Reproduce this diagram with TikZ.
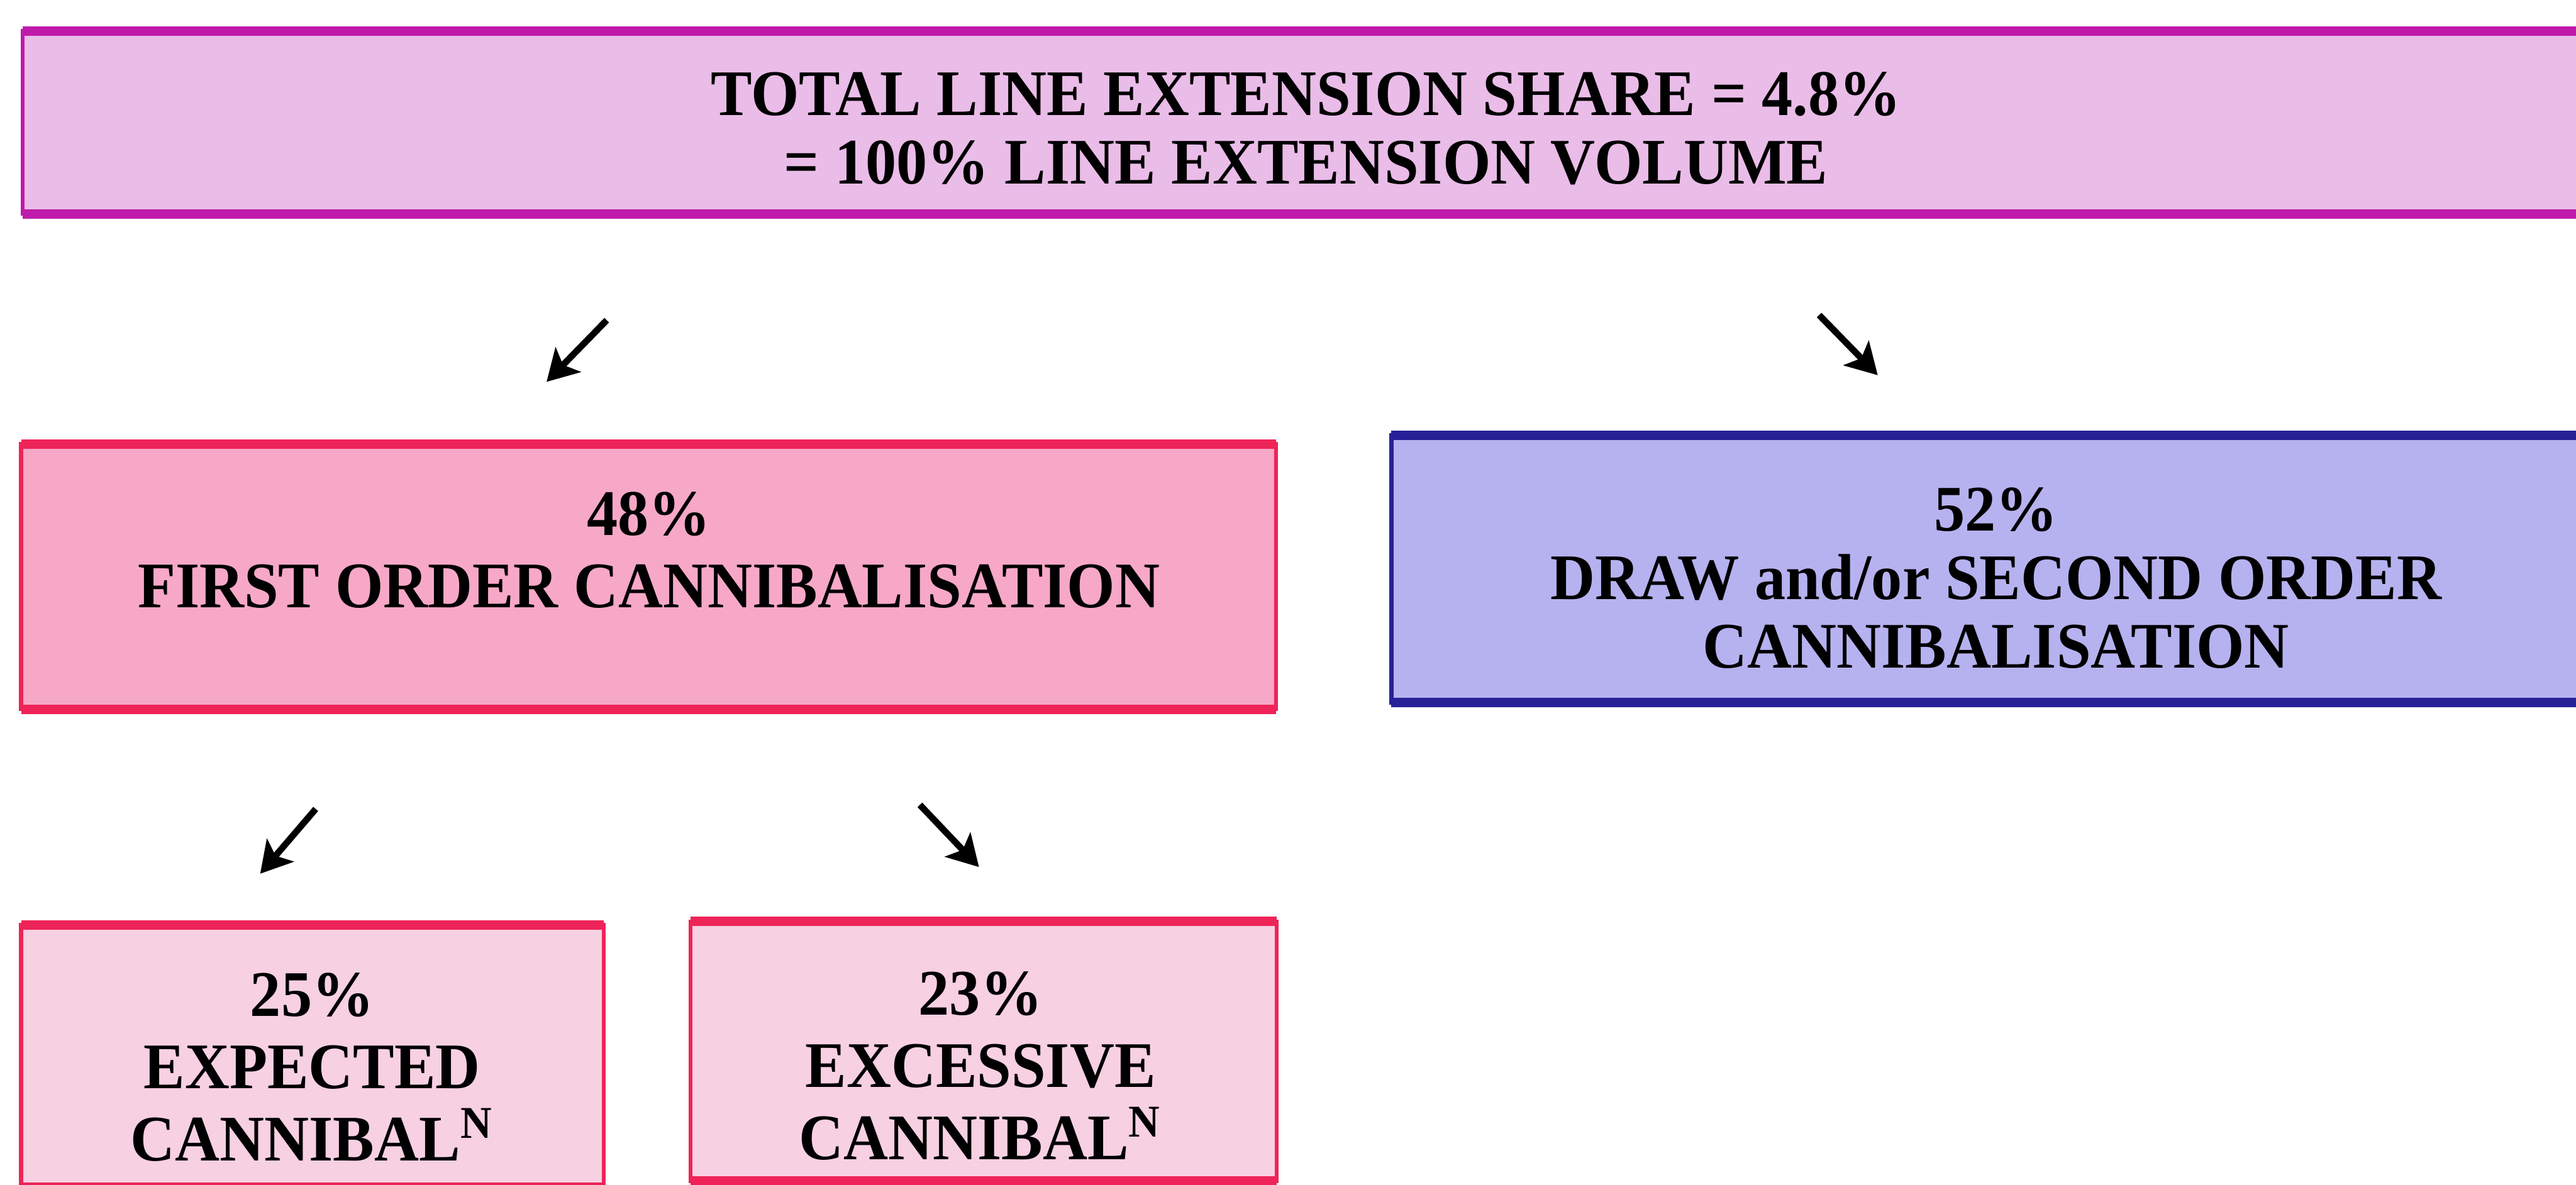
\documentclass[tikz,border=0pt]{standalone}
\usepackage{fontspec}
\setmainfont{Liberation Serif}[FakeStretch=0.95]
\usepackage{tikz}
\usetikzlibrary{arrows.meta,positioning}
\definecolor{toplilac}{RGB}{234,188,232}
\definecolor{topline}{RGB}{192,26,170}
\definecolor{firstpink}{RGB}{247,168,198}
\definecolor{redline}{RGB}{238,36,88}
\definecolor{secondblue}{RGB}{182,178,240}
\definecolor{blueline}{RGB}{40,32,150}
\definecolor{lightpink}{RGB}{247,208,226}

\begin{document}
\begin{tikzpicture}[thick,
			box/.style={rectangle, line width=1.1pt, outer sep=0pt, inner sep=0pt},
			top node/.style={box, draw=topline, fill=toplilac},
			first node/.style={box, draw=redline, fill=firstpink},
			second node/.style={box, draw=blueline, fill=secondblue},
			third node/.style={box, draw=redline, fill=lightpink},
			text node/.style={align=center, text=black, inner sep=0pt, font=\fontsize{18}{20}\selectfont\bfseries},
			edge line/.style={line width=2.6pt},
			arrow/.style={line width=1.8pt, black, -{Stealth[length=3mm,width=3.4mm,inset=0.7mm]}}]
			\useasboundingbox (0,0) rectangle (25.05,-11.525);
			\clip (0,0) rectangle (25.05,-11.525);
			
			\node[top node, minimum width=25.18cm, minimum height=1.78cm] (1) at (12.81,-1.19) {};
			\node[first node, minimum width=12.205cm, minimum height=2.58cm] (2) at (6.3075,-5.61) {};
			\node[second node, minimum width=11.87cm, minimum height=2.6cm] (3) at (19.465,-5.535) {};
			\node[third node, minimum width=5.665cm, minimum height=2.55cm] (4) at (3.0375,-10.275) {};
			\node[third node, minimum width=5.7cm, minimum height=2.525cm] (5) at (9.565,-10.2275) {};
			
			%\draw[edge line] thick top and bottom edges
			\draw[edge line, topline] (1.north west) -- (1.north east) (1.south west) -- (1.south east);
			\draw[edge line, redline] (2.north west) -- (2.north east) (2.south west) -- (2.south east);
			\draw[edge line, blueline] (3.north west) -- (3.north east) (3.south west) -- (3.south east);
			\draw[edge line, redline] (4.north west) -- (4.north east) (4.south west) -- (4.south east);
			\draw[edge line, redline] (5.north west) -- (5.north east) (5.south west) -- (5.south east);
			
			\node[text node, font=\fontsize{18}{19}\selectfont\bfseries] (t1) at (12.7,-1.25) {TOTAL LINE EXTENSION SHARE = 4.8\%\\= 100\% LINE EXTENSION VOLUME};
			\node[text node] (t2) at (6.31,-5.35) {48\%\\FIRST ORDER CANNIBALISATION};
			\node[text node, font=\fontsize{18}{19}\selectfont\bfseries] (t3) at (19.41,-5.625) {52\%\\DRAW and/or SECOND ORDER\\CANNIBALISATION};
			\node[text node] (t4) at (3.035,-10.38) {25\%\\EXPECTED\\CANNIBAL\textsuperscript{N}};
			\node[text node] (t5) at (9.535,-10.37) {23\%\\EXCESSIVE\\CANNIBAL\textsuperscript{N}};
			
			\coordinate (a1) at (5.90,-3.115);
			\coordinate (b1) at (5.315,-3.715);
			\coordinate (a2) at (17.69,-3.065);
			\coordinate (b2) at (18.26,-3.65);
			\coordinate (a3) at (3.07,-7.87);
			\coordinate (b3) at (2.53,-8.50);
			\coordinate (a4) at (8.945,-7.83);
			\coordinate (b4) at (9.52,-8.435);
			
			\path
			(a1) edge [arrow] (b1)
			(a2) edge [arrow] (b2)
			(a3) edge [arrow] (b3)
			(a4) edge [arrow] (b4);
			
		\end{tikzpicture}
\end{document}
